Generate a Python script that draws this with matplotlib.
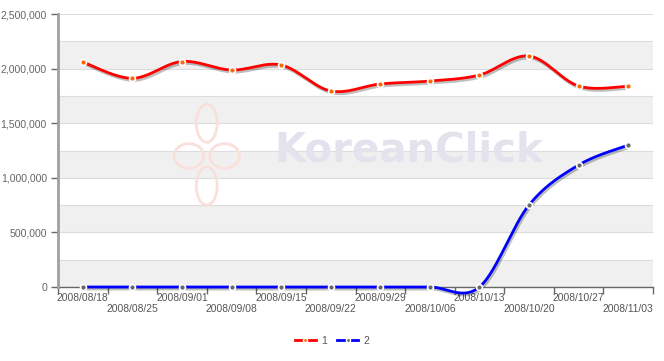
import numpy as np
import matplotlib
matplotlib.use("Agg")
import matplotlib.pyplot as plt
import matplotlib.patheffects as pe
from matplotlib.lines import Line2D
from matplotlib.patches import Ellipse

# data
weeks = ["2008/08/18", "2008/08/25", "2008/09/01", "2008/09/08", "2008/09/15", "2008/09/22",
         "2008/09/29", "2008/10/06", "2008/10/13", "2008/10/20", "2008/10/27", "2008/11/03"]
series1 = [2060000, 1911000, 2065000, 1987000, 2033000, 1795000,
           1859000, 1886000, 1941000, 2115000, 1840000, 1838000]
series2 = [0, 0, 0, 0, 0, 0, 0, 0, 0, 751000, 1117000, 1300000]
y_ticks = [0, 500000, 1000000, 1500000, 2000000, 2500000]


# catmull-rom curve through the points, for the smoothed line look
def smooth(xs, ys, steps=30):
    xs = np.asarray(xs, float)
    ys = np.asarray(ys, float)
    px = np.concatenate([[xs[0]], xs, [xs[-1]]])
    py = np.concatenate([[ys[0]], ys, [ys[-1]]])
    out_x, out_y = [], []
    t = np.linspace(0, 1, steps)
    h00 = 2 * t**3 - 3 * t**2 + 1
    h10 = t**3 - 2 * t**2 + t
    h01 = -2 * t**3 + 3 * t**2
    h11 = t**3 - t**2
    for i in range(1, len(px) - 2):
        mx1 = (px[i + 1] - px[i - 1]) / 2
        mx2 = (px[i + 2] - px[i]) / 2
        my1 = (py[i + 1] - py[i - 1]) / 2
        my2 = (py[i + 2] - py[i]) / 2
        out_x.append(h00 * px[i] + h10 * mx1 + h01 * px[i + 1] + h11 * mx2)
        out_y.append(h00 * py[i] + h10 * my1 + h01 * py[i + 1] + h11 * my2)
    return np.concatenate(out_x), np.concatenate(out_y)


fig = plt.figure(figsize=(6.64, 3.61), dpi=100)
plt.rcParams['font.family'] = ['Liberation Sans', 'DejaVu Sans']
ax = fig.add_axes([58 / 664, (361 - 287) / 361, (653 - 58) / 664, (287 - 14) / 361])

x = np.arange(len(weeks))
ax.set_xlim(-0.5, len(weeks) - 0.5)
ax.set_ylim(0, 2500000)

# alternating bands + grid lines every 250k
for k in range(10):
    lo = k * 250000
    if k % 2 == 0:
        ax.axhspan(lo, lo + 250000, color='#f0f0f0', lw=0, zorder=0)
    ax.axhline(lo + 250000, color='#dcdcdc', lw=0.8, zorder=0.5)

# faint watermark
ax.text(0.59, 0.50, "KoreanClick", transform=ax.transAxes, fontsize=29, fontweight='bold',
        color='#e3e3ee', ha='center', va='center', family='DejaVu Sans', zorder=0.6)
for (cx, cy, w, h) in [(0.25, 0.60, 0.035, 0.14), (0.25, 0.37, 0.035, 0.14),
                       (0.22, 0.48, 0.05, 0.09), (0.28, 0.48, 0.05, 0.09)]:
    ax.add_patch(Ellipse((cx, cy), w, h, transform=ax.transAxes, fill=False,
                         ec='#fae0da', lw=2, zorder=0.6))

shadow = [pe.SimpleLineShadow(offset=(1, -1.5), shadow_color='k', alpha=0.25), pe.Normal()]
for ys, col, dot in [(series1, '#ff0000', '#ff6600'), (series2, '#0000ff', '#666666')]:
    sx, sy = smooth(x, ys)
    ax.plot(sx, sy, color=col, lw=2.0, solid_capstyle='round', path_effects=shadow,
            zorder=7, clip_on=False)
    ax.plot(x, ys, 'o', ms=4.5, mfc='white', mec='white', zorder=8, clip_on=False)
    ax.plot(x, ys, 'o', ms=2, mfc=dot, mec=dot, zorder=9, clip_on=False)

# axes styling
for s in ['top', 'right']:
    ax.spines[s].set_visible(False)
ax.spines['left'].set_color('#a0a0a0')
ax.spines['left'].set_linewidth(2)
ax.spines['bottom'].set_color('#666666')
ax.spines['bottom'].set_linewidth(1)
ax.spines['left'].set_zorder(6)

ax.set_yticks(y_ticks)
ax.set_yticklabels([f"{v:,}" for v in y_ticks])
ax.tick_params(axis='y', length=5, width=1, color='#666666', pad=3, labelsize=7.6, labelcolor='#666666')

ax.set_xticks(x)
ax.set_xticklabels([w if i % 2 == 0 else "\n" + w for i, w in enumerate(weeks)])
ax.tick_params(axis='x', which='major', length=0, pad=4, labelsize=7.4, labelcolor='#555555')
ax.set_xticks(np.arange(-0.5, len(weeks)), minor=True)
ax.tick_params(axis='x', which='minor', length=5, width=1, color='#666666')

handles = [Line2D([0], [0], color='#ff0000', lw=2.0, marker='o', ms=3, mfc='#ff6600', mec='white'),
           Line2D([0], [0], color='#0000ff', lw=2.0, marker='o', ms=3, mfc='#666666', mec='white')]
fig.legend(handles, ['1', '2'], loc='center', bbox_to_anchor=(0.5, 1 - 341 / 361), ncol=2,
           frameon=False, fontsize=7.5, handlelength=2.0, handletextpad=0.5, columnspacing=1.0,
           labelcolor='#555555')

fig.savefig("out.png", dpi=100)
